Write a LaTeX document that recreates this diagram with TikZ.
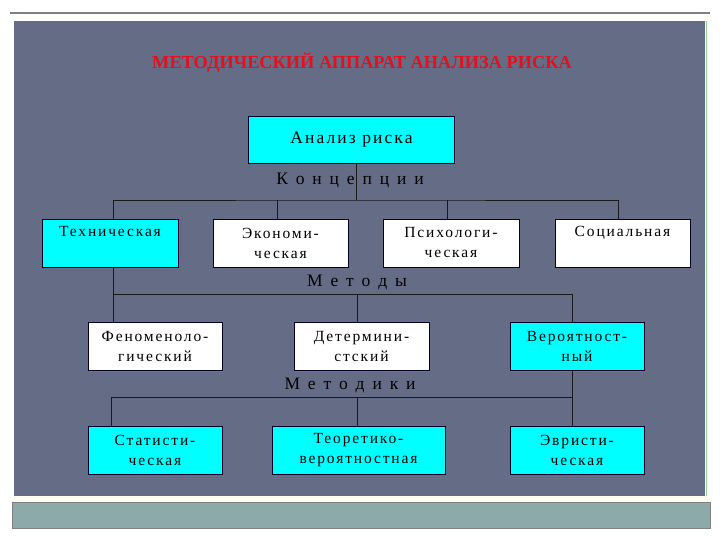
\documentclass[tikz,border=0pt]{standalone}
\usepackage{fontspec}
\setmainfont{Liberation Serif}
\newfontfamily\boxfont[LetterSpace=12]{Liberation Serif}
\newfontfamily\labelfont[LetterSpace=20]{Liberation Serif}
\usetikzlibrary{positioning,shadows}
\definecolor{panel}{HTML}{646C86}
\definecolor{band}{HTML}{8CAAA9}
\definecolor{boxcyan}{HTML}{00FFFF}
\definecolor{titlered}{HTML}{E3101E}

\begin{document}
\begin{tikzpicture}[x=1pt, y=-1pt,
    block/.style={draw=black!85!blue, line width=0.8pt, minimum height=48, inner sep=2pt,
        align=center, font=\boxfont\fontsize{15.5}{20}\selectfont,
        drop shadow={shadow xshift=1.2pt, shadow yshift=-1.2pt, opacity=0.5}},
    hot/.style={block, fill=boxcyan},
    plain/.style={block, fill=white},
    level/.style={font=\labelfont\fontsize{17.5}{18}\selectfont},
    wire/.style={line width=0.8pt, black!90}]
    \useasboundingbox (0,0) rectangle (720,540);
    \fill[white] (0,0) rectangle (720,540);

    % Slide frame
    \draw[gray, line width=1.2pt] (10,13) -- (710,13);
    \fill[panel] (14,21) rectangle (705,496);
    \draw[green!40!gray!60, line width=0.6pt] (706,21) -- (706,498);
    \fill[yellow!5] (12,496) rectangle (710,502);
    \filldraw[fill=band, draw=gray, line width=0.6pt] (12,502) rectangle (710,528);

    % Title
    \node[text=titlered, font=\bfseries\fontsize{18.3}{20}\selectfont] (title) at (362,63)
        {МЕТОДИЧЕСКИЙ АППАРАТ АНАЛИЗА РИСКА};

    % Boxes
    \node[hot, minimum width=206, minimum height=47, font=\boxfont\fontsize{17.5}{20}\selectfont]
        (root) at (351.5,139.5) {Анализ риска};

    \node[hot, minimum width=136] (tech) at (110,243) {Техническая\\[-2pt]\strut};
    \node[plain, minimum width=135] (econ) at (280.5,243) {Экономи-\\ческая};
    \node[plain, minimum width=136] (psych) at (451,243) {Психологи-\\ческая};
    \node[plain, minimum width=135] (soc) at (622.5,243) {Социальная\\[-2pt]\strut};

    \node[plain, minimum width=134] (phen) at (155,346.5) {Феноменоло-\\гический};
    \node[plain, minimum width=135] (det) at (361.5,346.5) {Детермини-\\стский};
    \node[hot, minimum width=134] (prob) at (577,346.5) {Вероятност-\\ный};

    \node[hot, minimum width=134] (stat) at (155,450) {Статисти-\\ческая};
    \node[hot, minimum width=173] (theo) at (358.5,450) {Теоретико-\\вероятностная};
    \node[hot, minimum width=134] (heur) at (577,450) {Эвристи-\\ческая};

    % Level labels
    \node[level] (conc) at (350,180) {К о н ц е п ц и и};
    \node[level] (meth) at (357,282) {М е т о д ы};
    \node[level] (tool) at (350,385) {М е т о д и к и};

    % Buses
    \coordinate (kbus) at (356,200);
    \coordinate (mbus) at (357,294);
    \coordinate (tbus) at (357,397);
    \coordinate (tx) at ([xshift=3]tech.south);
    \coordinate (px) at ([xshift=-5]prob.south);

    % Concepts
    \draw[wire] (root.south -| kbus) -- (kbus);
    \draw[wire] ([xshift=3]tech.north) |- (kbus) -| ([xshift=-4]soc.north);
    \draw[wire] ([xshift=-3]econ.north) -- ([xshift=-3]econ.north |- kbus);
    \draw[wire] ([xshift=-4]psych.north) -- ([xshift=-4]psych.north |- kbus);

    % Methods
    \draw[wire] (tx) -- (phen.north -| tx);
    \draw[wire] (mbus -| tx) -| ([xshift=-5]prob.north);
    \draw[wire] (det.north -| mbus) -- (mbus);

    % Techniques
    \draw[wire] (px) -- (heur.north -| px);
    \draw[wire] ([xshift=-44]stat.north) |- (tbus -| px);
    \draw[wire] (theo.north -| tbus) -- (tbus);
\end{tikzpicture}
\end{document}
